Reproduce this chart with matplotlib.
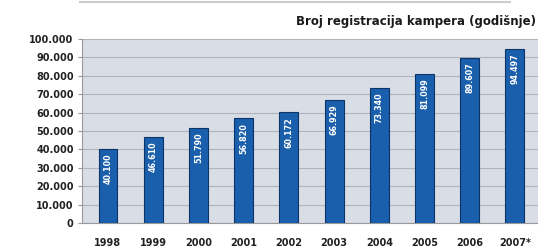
import numpy as np
from matplotlib import pyplot as plt

# podaci
godine = ['1998', '1999', '2000', '2001', '2002', '2003', '2004', '2005', '2006', '2007*']
registracije = [40100, 46610, 51790, 56820, 60172, 66929, 73340, 81099, 89607, 94497]
oznake = ['40.100', '46.610', '51.790', '56.820', '60.172', '66.929', '73.340', '81.099', '89.607', '94.497']
y_ticks = np.arange(0, 100001, 10000)
y_labels = ['0'] + [f'{v // 1000}.000' for v in y_ticks[1:]]

plt.rcParams['font.family'] = ['DejaVu Sans']

fig = plt.figure(figsize=(5.38, 2.52), dpi=100)
ax = fig.add_axes([82 / 538, 29 / 252, 1 - 82 / 538, 184 / 252])
ax.set_facecolor('#d9dde6')

x = np.arange(len(godine))
ax.bar(x, registracije, width=0.42, color='#1a5fab', edgecolor='#0b3468', linewidth=0.8, zorder=3)

# oznake u stupcima
for i, val in enumerate(registracije):
    ax.text(x[i], val - 2500, oznake[i], rotation=90, ha='center', va='top',
            color='white', fontsize=5.8, fontweight='bold', zorder=4)

ax.set_ylim(0, 100000)
ax.set_xlim(-0.575, 9.51)
ax.set_yticks(y_ticks)
ax.set_yticklabels(y_labels, fontsize=7, fontweight='bold', color='#222222')
ax.set_xticks(x)
ax.set_xticklabels(godine, fontsize=7, fontweight='bold', color='#222222')
ax.tick_params(axis='x', length=0, pad=11)
ax.tick_params(axis='y', length=3, color='#999999', pad=3)

ax.grid(True, axis='y', color='#b0b4bc', linewidth=0.8, zorder=1)
for s in ['top', 'right']:
    ax.spines[s].set_visible(False)
ax.spines['left'].set_color('#9a9a9a')
ax.spines['bottom'].set_color('#9a9a9a')

fig.text(536 / 538, 1 - 21 / 252, 'Broj registracija kampera (godišnje)', ha='right', va='center',
         fontsize=8.5, fontweight='bold', color='#1a1a1a')
# tanka linija na vrhu
fig.add_artist(plt.Line2D([80 / 538, 510 / 538], [1 - 2 / 252, 1 - 2 / 252], color='#cccccc', linewidth=1.5))

plt.savefig('out.png', dpi=100)
